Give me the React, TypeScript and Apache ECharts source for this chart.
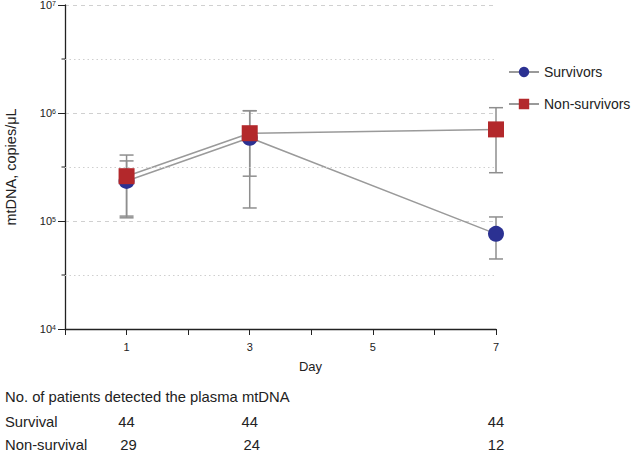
import React, { useEffect, useRef } from "react";
import * as echarts from "echarts";

const days = [1, 3, 7];
const survivorsMean = [2.35e5, 5.9e5, 7.6e4];
const survivorsLow = [1.07e5, 1.32e5, 4.45e4];
const survivorsHigh = [3.6e5, 1.05e6, 1.09e5];
const nonSurvivorsMean = [2.6e5, 6.5e5, 7.05e5];
const nonSurvivorsLow = [1.11e5, 2.6e5, 2.8e5];
const nonSurvivorsHigh = [4.08e5, 1.05e6, 1.12e6];
const halfDecades = [Math.pow(10, 4.5), Math.pow(10, 5.5), Math.pow(10, 6.5)];
const tableRows = ["Survival", "Non-survival"];
const survivalCounts = [44, 44, 44];
const nonSurvivalCounts = [29, 24, 12];
const tableTitle = "No. of patients detected the plasma mtDNA";

const FONT = "Liberation Sans, Arial, Helvetica, sans-serif";
const BAR_COLOR = "#8e8e8e";

function errorRender(params: any, api: any) {
  const x = api.value(0);
  const lo = api.coord([x, api.value(1)]);
  const hi = api.coord([x, api.value(2)]);
  const w = 7;
  const style = { stroke: BAR_COLOR, lineWidth: 1.5, fill: "none" };
  return {
    type: "group",
    children: [
      { type: "line", shape: { x1: lo[0], y1: lo[1], x2: hi[0], y2: hi[1] }, style },
      { type: "line", shape: { x1: lo[0] - w, y1: lo[1], x2: lo[0] + w, y2: lo[1] }, style },
      { type: "line", shape: { x1: hi[0] - w, y1: hi[1], x2: hi[0] + w, y2: hi[1] }, style },
    ],
  };
}

export default function App() {
  const ref = useRef<HTMLDivElement>(null);
  useEffect(() => {
    if (!ref.current) return;
    const chart = echarts.init(ref.current, null, { renderer: "svg" });
    chart.setOption({
      animation: false,
      textStyle: { fontFamily: FONT },
      grid: { left: 65, right: 135, top: 5, bottom: 123, containLabel: false, outerBoundsMode: "none" },
      legend: {
        orient: "vertical",
        left: 503,
        top: 60,
        itemWidth: 30,
        itemHeight: 13,
        itemGap: 18,
        textStyle: { fontSize: 14, color: "#222", fontFamily: FONT },
        data: ["Survivors", "Non-survivors"],
      },
      xAxis: {
        type: "value",
        min: 0,
        max: 7,
        interval: 1,
        name: "Day",
        nameLocation: "middle",
        nameGap: 31,
        nameTextStyle: { fontSize: 13, color: "#222", fontFamily: FONT, padding: [0, 0, 0, 60] },
        axisLine: { lineStyle: { color: "#222", width: 1.3 } },
        axisTick: { show: true, length: 6, lineStyle: { color: "#222" } },
        axisLabel: {
          fontSize: 11,
          color: "#222",
          margin: 12,
          formatter: (v: number) => (v % 2 === 1 ? String(v) : ""),
        },
        splitLine: { show: false },
      },
      yAxis: {
        type: "log",
        logBase: 10,
        min: 1e4,
        max: 1e7,
        name: "mtDNA, copies/μL",
        nameLocation: "middle",
        nameGap: 47,
        nameTextStyle: { fontSize: 14.5, color: "#222", fontFamily: FONT },
        axisLine: { show: true, lineStyle: { color: "#222", width: 1.3 } },
        axisTick: { show: true, length: 7, lineStyle: { color: "#222" } },
        axisLabel: {
          margin: 9,
          formatter: (v: number) => `{b|10}{s|${Math.round(Math.log10(v))}}`,
          rich: {
            b: { fontSize: 11, color: "#222", fontFamily: FONT },
            s: { fontSize: 7, color: "#222", verticalAlign: "top", fontFamily: FONT },
          },
        },
        splitLine: { show: true, lineStyle: { type: [4, 4], color: "#d0d0d0", width: 1 } },
      },
      series: [
        {
          type: "custom",
          name: "errS",
          renderItem: errorRender,
          encode: { x: 0, y: [1, 2] },
          data: days.map((d, i) => [d, survivorsLow[i], survivorsHigh[i]]),
          z: 1,
          silent: true,
        },
        {
          type: "custom",
          name: "errNS",
          renderItem: errorRender,
          encode: { x: 0, y: [1, 2] },
          data: days.map((d, i) => [d, nonSurvivorsLow[i], nonSurvivorsHigh[i]]),
          z: 1,
          silent: true,
        },
        {
          type: "line",
          name: "Survivors",
          data: days.map((d, i) => [d, survivorsMean[i]]),
          symbol: "circle",
          symbolSize: 16,
          lineStyle: { color: "#9a9a9a", width: 1.5 },
          itemStyle: { color: "#2b3192", borderWidth: 0 },
          z: 3,
          markLine: {
            silent: true,
            symbol: "none",
            label: { show: false },
            lineStyle: { type: [1.5, 3], color: "#cfcfcf", width: 1 },
            data: halfDecades.map((v) => ({ yAxis: v })),
          },
        },
        {
          type: "line",
          name: "Non-survivors",
          data: days.map((d, i) => [d, nonSurvivorsMean[i]]),
          symbol: "rect",
          symbolSize: 16,
          lineStyle: { color: "#9a9a9a", width: 1.5 },
          itemStyle: { color: "#b3282b", borderWidth: 0 },
          z: 4,
        },
      ],
    });

    const px = (d: number) => chart.convertToPixel({ xAxisIndex: 0 }, d) as number;
    const py = (v: number) => chart.convertToPixel({ yAxisIndex: 0 }, v) as number;
    const axisX = px(0);
    const graphic: any[] = [
      {
        type: "text",
        x: 5,
        y: 397,
        style: { text: tableTitle, font: `14.8px ${FONT}`, fill: "#222", textVerticalAlign: "middle" },
      },
    ];
    halfDecades.forEach((v) => {
      const y = py(v);
      graphic.push({
        type: "line",
        shape: { x1: axisX - 3.5, y1: y, x2: axisX, y2: y },
        style: { stroke: "#222", lineWidth: 1 },
      });
    });
    const rowsY = [422, 445];
    const rowCounts = [survivalCounts, nonSurvivalCounts];
    tableRows.forEach((r, ri) => {
      graphic.push({
        type: "text",
        x: 5,
        y: rowsY[ri],
        style: { text: r, font: `14.8px ${FONT}`, fill: "#222", textVerticalAlign: "middle" },
      });
      days.forEach((d, di) => {
        graphic.push({
          type: "text",
          x: px(d) + (ri === 1 && di < 2 ? 2 : 0),
          y: rowsY[ri],
          style: {
            text: String(rowCounts[ri][di]),
            font: `14.8px ${FONT}`,
            fill: "#222",
            textAlign: "center",
            textVerticalAlign: "middle",
          },
        });
      });
    });
    chart.setOption({ graphic });

    return () => chart.dispose();
  }, []);
  return <div ref={ref} style={{ width: 631, height: 452, position: "absolute", left: 0, top: 0 }} />;
}
